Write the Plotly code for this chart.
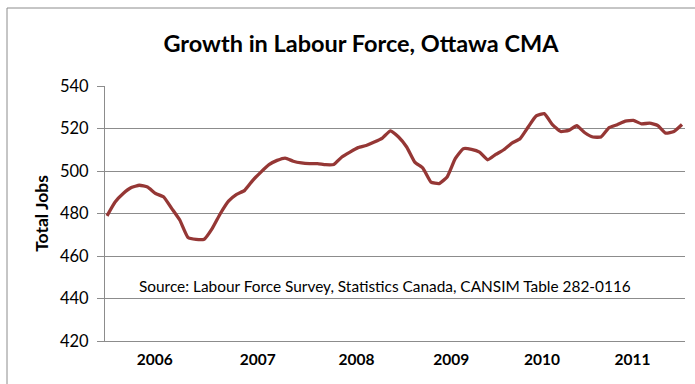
import plotly.graph_objects as go

# Monthly total jobs (thousands), Ottawa CMA, Jan 2006 - Dec 2011
years = ["2006", "2007", "2008", "2009", "2010", "2011"]
total_jobs = [
    478.9, 485.4, 489.4, 492.2, 493.3, 492.5, 489.4, 487.8, 482.3, 476.8, 468.7, 467.8,
    467.9, 473.0, 480.0, 485.8, 489.0, 490.9, 495.6, 499.5, 503.0, 505.0, 506.1, 504.6,
    503.8, 503.5, 503.5, 503.0, 503.1, 506.6, 508.9, 511.0, 512.0, 513.6, 515.5, 518.9,
    516.0, 511.3, 504.2, 501.4, 494.8, 494.1, 497.2, 505.8, 510.5, 510.2, 508.9, 505.3,
    507.8, 510.0, 513.1, 515.2, 520.7, 525.9, 527.0, 521.8, 518.6, 519.1, 521.3, 518.0,
    516.0, 516.0, 520.4, 521.8, 523.5, 523.8, 522.2, 522.5, 521.4, 517.8, 518.6, 521.9,
]
y_ticks = [420, 440, 460, 480, 500, 520, 540]
source_note = "Source: Labour Force Survey, Statistics Canada, CANSIM Table 282-0116"

months = list(range(len(total_jobs)))
# where each year label sits along the month axis
year_label_pos = [5.9, 18.6, 30.8, 42.5, 53.7, 64.9]

fig = go.Figure(
    go.Scatter(
        x=months,
        y=total_jobs,
        mode="lines",
        line=dict(color="#953735", width=3.3, shape="spline", smoothing=0.4),
        hoverinfo="skip",
    )
)

grid = "#8c8c8c"
fig.update_layout(
    width=695,
    height=384,
    margin=dict(l=105, r=10, t=86, b=43),
    paper_bgcolor="white",
    plot_bgcolor="white",
    showlegend=False,
    font=dict(family="Lato", color="black"),
    title=dict(
        text="<b>Growth in Labour Force, Ottawa CMA</b>",
        x=361 / 695,
        xanchor="center",
        y=1 - 44 / 384,
        yanchor="middle",
        font=dict(size=23.5, family="Lato", color="black"),
    ),
    xaxis=dict(
        range=[-0.25, 71.37],
        tickvals=year_label_pos,
        ticktext=["<b>%s</b>" % y for y in years],
        tickfont=dict(size=15.5, family="Lato"),
        showgrid=False,
        zeroline=False,
        showline=True,
        linecolor=grid,
        linewidth=1,
        ticks="",
        ticklabelstandoff=4,
    ),
    yaxis=dict(
        range=[420, 540],
        tickvals=y_ticks,
        tickfont=dict(size=16.5, family="Lato"),
        showgrid=True,
        gridcolor=grid,
        gridwidth=1,
        zeroline=False,
        showline=True,
        linecolor=grid,
        linewidth=1,
        ticks="outside",
        ticklen=7,
        tickcolor=grid,
        ticklabelstandoff=5,
        title=dict(text="<b>Total Jobs</b>", font=dict(size=17.5, family="Lato"), standoff=6),
    ),
    annotations=[
        dict(
            text=source_note,
            xref="paper",
            yref="paper",
            x=(137 - 105) / 580,
            xanchor="left",
            y=(341 - 286) / 255,
            yanchor="middle",
            showarrow=False,
            font=dict(size=15.4, family="Lato"),
        )
    ],
    shapes=[
        dict(
            type="rect",
            xref="paper",
            yref="paper",
            x0=(7 - 105) / 580,
            x1=(700 - 105) / 580,
            y0=(341 - 390) / 255,
            y1=(341 - 8) / 255,
            line=dict(color="#8c8c8c", width=1),
            layer="below",
        )
    ],
)

fig.write_html("out.html")
